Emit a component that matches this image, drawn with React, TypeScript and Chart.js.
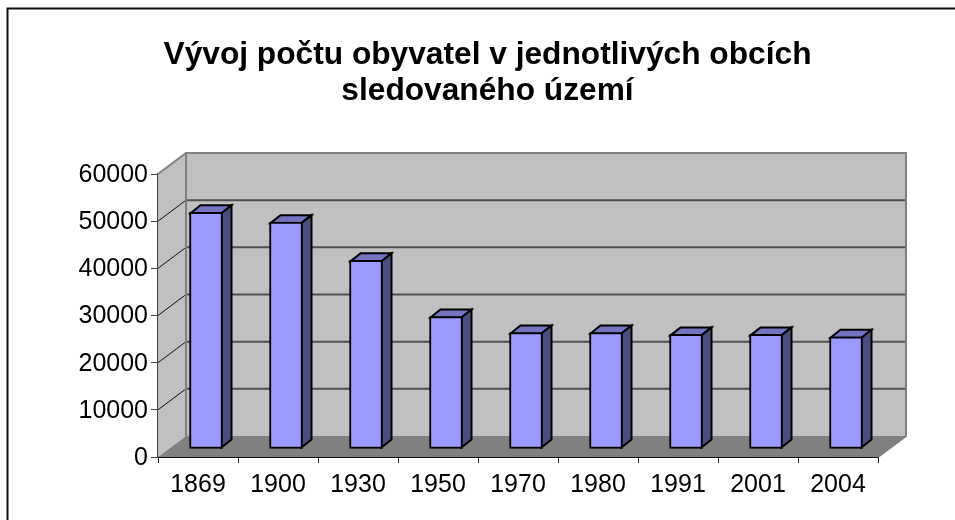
import React, { useEffect, useRef } from "react";
import { Chart, registerables } from "chart.js";

Chart.register(...registerables);

const titleLines = ["Vývoj počtu obyvatel v jednotlivých obcích", "sledovaného území"];
const years = ["1869", "1900", "1930", "1950", "1970", "1980", "1991", "2001", "2004"];
const population = [50200, 48100, 40000, 28100, 24700, 24700, 24300, 24300, 23800];

const FONT = "'Liberation Sans', Arial, sans-serif";
const DEPTH_X = 28;
const DEPTH_Y = 21;
const BAR_OFFSET_X = 8;
const BAR_OFFSET_Y = 8;
const BAR_DEPTH_X = 10;
const BAR_DEPTH_Y = 8;

function poly(ctx: CanvasRenderingContext2D, pts: number[][], fill: string | null, stroke: string | null, lw = 1) {
  ctx.beginPath();
  pts.forEach((p, i) => (i ? ctx.lineTo(p[0], p[1]) : ctx.moveTo(p[0], p[1])));
  ctx.closePath();
  if (fill) {
    ctx.fillStyle = fill;
    ctx.fill();
  }
  if (stroke) {
    ctx.strokeStyle = stroke;
    ctx.lineWidth = lw;
    ctx.stroke();
  }
}

const scene3d = {
  id: "scene3d",
  beforeDraw(chart: any) {
    const ctx: CanvasRenderingContext2D = chart.ctx;
    ctx.save();
    ctx.fillStyle = "#ffffff";
    ctx.fillRect(0, 0, chart.width, chart.height);
    ctx.strokeStyle = "#111111";
    ctx.lineWidth = 2;
    ctx.beginPath();
    ctx.moveTo(7.5, chart.height);
    ctx.lineTo(7.5, 8.5);
    ctx.lineTo(chart.width, 8.5);
    ctx.stroke();
    ctx.restore();
  },
  beforeDatasetsDraw(chart: any) {
    const ctx: CanvasRenderingContext2D = chart.ctx;
    const { left, right, top, bottom } = chart.chartArea;
    const y = chart.scales.y;
    ctx.save();
    // back wall
    poly(ctx, [[left + DEPTH_X, top - DEPTH_Y], [right + DEPTH_X, top - DEPTH_Y], [right + DEPTH_X, bottom - DEPTH_Y], [left + DEPTH_X, bottom - DEPTH_Y]], "#c0c0c0", null);
    // side wall
    poly(ctx, [[left, top], [left + DEPTH_X, top - DEPTH_Y], [left + DEPTH_X, bottom - DEPTH_Y], [left, bottom]], "#c0c0c0", null);
    // floor
    poly(ctx, [[left, bottom], [right, bottom], [right + DEPTH_X, bottom - DEPTH_Y], [left + DEPTH_X, bottom - DEPTH_Y]], "#808080", null);
    // gridlines
    y.ticks.forEach((t: any) => {
      if (t.value === 0 || t.value === 60000) return;
      const py = y.getPixelForValue(t.value);
      ctx.strokeStyle = "#111111";
      ctx.lineWidth = 1;
      ctx.beginPath();
      ctx.moveTo(left, py);
      ctx.lineTo(left + DEPTH_X, py - DEPTH_Y);
      ctx.stroke();
      ctx.strokeStyle = "#505050";
      ctx.lineWidth = 2;
      ctx.beginPath();
      ctx.moveTo(left + DEPTH_X, py - DEPTH_Y);
      ctx.lineTo(right + DEPTH_X, py - DEPTH_Y);
      ctx.stroke();
    });
    // wall edges
    ctx.strokeStyle = "#808080";
    ctx.lineWidth = 2;
    ctx.beginPath();
    ctx.moveTo(left, top);
    ctx.lineTo(left + DEPTH_X, top - DEPTH_Y);
    ctx.lineTo(right + DEPTH_X, top - DEPTH_Y);
    ctx.lineTo(right + DEPTH_X, bottom - DEPTH_Y);
    ctx.lineTo(right, bottom);
    ctx.moveTo(left + DEPTH_X, top - DEPTH_Y);
    ctx.lineTo(left + DEPTH_X, bottom - DEPTH_Y);
    ctx.stroke();
    ctx.restore();
  },
  beforeDatasetDraw(chart: any, args: any) {
    const ctx: CanvasRenderingContext2D = chart.ctx;
    const meta = chart.getDatasetMeta(args.index);
    ctx.save();
    ctx.translate(BAR_OFFSET_X, -BAR_OFFSET_Y);
    ctx.lineJoin = "miter";
    meta.data.forEach((el: any) => {
      const l = el.x - el.width / 2 + 1;
      const r = el.x + el.width / 2 - 1;
      const t = el.y + 1;
      const b = el.base - 1;
      poly(ctx, [[l, t], [l + BAR_DEPTH_X, t - BAR_DEPTH_Y], [r + BAR_DEPTH_X, t - BAR_DEPTH_Y], [r, t]], "#7373c0", "#000000", 2);
      poly(ctx, [[r, t], [r + BAR_DEPTH_X, t - BAR_DEPTH_Y], [r + BAR_DEPTH_X, b - BAR_DEPTH_Y], [r, b]], "#4d4d80", "#000000", 2);
    });
  },
  afterDatasetDraw(chart: any) {
    chart.ctx.restore();
  },
};

export default function App() {
  const ref = useRef<HTMLCanvasElement | null>(null);
  useEffect(() => {
    const chart = new Chart(ref.current as HTMLCanvasElement, {
      type: "bar",
      data: {
        labels: years,
        datasets: [
          {
            data: population,
            backgroundColor: "#9999ff",
            borderColor: "#000000",
            borderWidth: 2,
            borderSkipped: false,
            barThickness: 33,
            clip: false,
          } as any,
        ],
      },
      options: {
        animation: false,
        responsive: false,
        layout: { autoPadding: false, padding: { left: 20, right: 0, top: 37, bottom: 0 } },
        plugins: {
          legend: { display: false },
          tooltip: { enabled: false },
          title: {
            display: true,
            text: titleLines,
            color: "#000000",
            font: { family: FONT, size: 31.7, weight: "bold", lineHeight: 1.136 },
            padding: { top: 0, bottom: 65 },
          },
        },
        scales: {
          x: {
            grid: { offset: true, drawOnChartArea: false, drawTicks: true, tickLength: 6, color: "#222222" },
            border: { color: "#111111", width: 2 },
            ticks: { color: "#000000", font: { family: FONT, size: 25 }, padding: 7, maxRotation: 0, autoSkip: false },
            afterFit: (s: any) => {
              s.height = 63;
            },
          },
          y: {
            min: 0,
            max: 60000,
            grid: { drawOnChartArea: false, drawTicks: true, tickLength: 7, color: "#444444" },
            border: { color: "#444444", width: 2 },
            ticks: {
              stepSize: 10000,
              color: "#000000",
              font: { family: FONT, size: 25 },
              padding: 3,
              labelOffset: 1,
              callback: (v: any) => String(v),
            },
            afterFit: (s: any) => {
              s.width = 138;
            },
          },
          rightGutter: {
            type: "linear",
            position: "right",
            display: true,
            grid: { display: false },
            border: { display: false },
            ticks: { display: false },
            afterFit: (s: any) => {
              s.width = 77;
            },
          },
        },
      } as any,
      plugins: [scene3d],
    });
    return () => chart.destroy();
  }, []);
  return (
    <div style={{ position: "absolute", left: 0, top: 0, width: 955, height: 520 }}>
      <canvas ref={ref} width={955} height={520} style={{ display: "block", width: 955, height: 520 }} />
    </div>
  );
}
